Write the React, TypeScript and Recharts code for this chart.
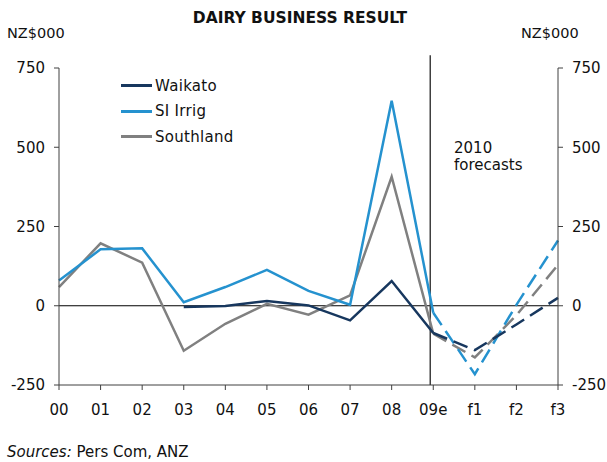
import { LineChart, Line, XAxis, YAxis, ReferenceLine, Legend } from 'recharts';

const years = ['00', '01', '02', '03', '04', '05', '06', '07', '08', '09e', 'f1', 'f2', 'f3'];
const waikato = [null, null, null, -4, -1, 15, 1, -46, 78, -86, -140, -59, 25];
const siIrrig = [80, 178, 181, 11, 59, 113, 47, 3, 647, -22, -216, 3, 206];
const southland = [59, 197, 136, -142, -57, 6, -28, 33, 407, -88, -163, -30, 129];
const yTicks = [-250, 0, 250, 500, 750];
const forecastFrom = 9; // index of 09e, dashes start here

const series = [
  { key: 'southland', name: 'Southland', values: southland, color: '#808080' },
  { key: 'siIrrig', name: 'SI Irrig', values: siIrrig, color: '#2592cf' },
  { key: 'waikato', name: 'Waikato', values: waikato, color: '#17375e' },
];
const legendOrder = ['waikato', 'siIrrig', 'southland'];

const data = years.map((year, i) => {
  const row: Record<string, string | number | null> = { year };
  series.forEach((s) => {
    row[s.key] = i <= forecastFrom ? s.values[i] : null;
    row[s.key + 'F'] = i >= forecastFrom ? s.values[i] : null;
  });
  return row;
});

const font = 'DejaVu Sans, Verdana, sans-serif';
const tickStyle = { fontSize: 15, fill: '#111', fontFamily: font };

function LegendBox() {
  return (
    <div style={{ fontFamily: font, fontSize: 15, color: '#111' }}>
      {legendOrder.map((k) => {
        const s = series.find((x) => x.key === k)!;
        return (
          <div key={k} style={{ display: 'flex', alignItems: 'center', height: 25.5 }}>
            <span style={{ display: 'inline-block', width: 31, height: 3, background: s.color, marginRight: 3 }} />
            <span style={{ letterSpacing: 0.3 }}>{s.name}</span>
          </div>
        );
      })}
    </div>
  );
}

export default function App() {
  return (
    <div style={{ position: 'absolute', left: 0, top: 0, width: 607, height: 462, background: '#fff', fontFamily: font }}>
      <div style={{ position: 'absolute', left: 0, width: 600, top: 9, textAlign: 'center', fontWeight: 'bold', fontSize: 15.5, color: '#111' }}>
        DAIRY BUSINESS RESULT
      </div>
      <div style={{ position: 'absolute', left: 7, top: 25, fontSize: 14.5, color: '#111' }}>NZ$000</div>
      <div style={{ position: 'absolute', left: 521, top: 25, fontSize: 14.5, color: '#111' }}>NZ$000</div>
      <div style={{ position: 'absolute', left: 454, top: 140, fontSize: 15, lineHeight: '17px', color: '#111' }}>
        2010
        <br />
        forecasts
      </div>
      <div style={{ position: 'absolute', left: 7, top: 443, fontSize: 15, color: '#111' }}>
        <i>Sources:</i> Pers Com, ANZ
      </div>
      <div style={{ position: 'absolute', left: 0, top: 0 }}>
        <LineChart width={607} height={462} data={data} margin={{ top: 68, right: 0, bottom: 0, left: 0 }}>
          <XAxis
            dataKey="year"
            height={77}
            padding={{ left: 0, right: 0 }}
            tick={tickStyle}
            tickSize={5}
            tickMargin={14}
            stroke="#404040"
            interval={0}
          />
          <YAxis
            yAxisId="left"
            width={59}
            domain={[-250, 750]}
            ticks={yTicks}
            tick={tickStyle}
            tickSize={5}
            tickMargin={9}
            stroke="#404040"
          />
          <YAxis
            yAxisId="right"
            orientation="right"
            width={49}
            domain={[-250, 750]}
            ticks={yTicks}
            tick={tickStyle}
            tickSize={5}
            tickMargin={9}
            stroke="#404040"
            interval={0}
          />
          <ReferenceLine yAxisId="left" y={0} stroke="#000" strokeWidth={1.2} />
          <ReferenceLine
            yAxisId="left"
            segment={[{ x: '09e', y: 790 }, { x: '09e', y: -250 }]}
            ifOverflow="visible"
            stroke="#404040"
            strokeWidth={1.5}
            shape={(p: any) => (
              <line x1={p.x1 - 3} y1={p.y1} x2={p.x2 - 3} y2={p.y2} stroke="#404040" strokeWidth={1.5} />
            )}
          />
          <Legend
            layout="horizontal"
            verticalAlign="middle"
            align="center"
            content={() => <LegendBox />}
            wrapperStyle={{ position: 'absolute', left: 121, top: 73, width: 'auto' }}
          />
          {/* invisible copy so the right axis gets a domain and draws its labels */}
          <Line
            yAxisId="right"
            dataKey="siIrrig"
            stroke="none"
            dot={false}
            activeDot={false}
            legendType="none"
            isAnimationActive={false}
          />
          {series.map((s) => (
            <Line
              key={s.key}
              yAxisId="left"
              dataKey={s.key}
              name={s.name}
              type="linear"
              stroke={s.color}
              strokeWidth={2.5}
              dot={false}
              activeDot={false}
              isAnimationActive={false}
            />
          ))}
          {series.map((s) => (
            <Line
              key={s.key + 'F'}
              yAxisId="left"
              dataKey={s.key + 'F'}
              name={s.name}
              type="linear"
              stroke={s.color}
              strokeWidth={2.5}
              strokeDasharray="15 7"
              dot={false}
              activeDot={false}
              legendType="none"
              isAnimationActive={false}
            />
          ))}
        </LineChart>
      </div>
    </div>
  );
}
